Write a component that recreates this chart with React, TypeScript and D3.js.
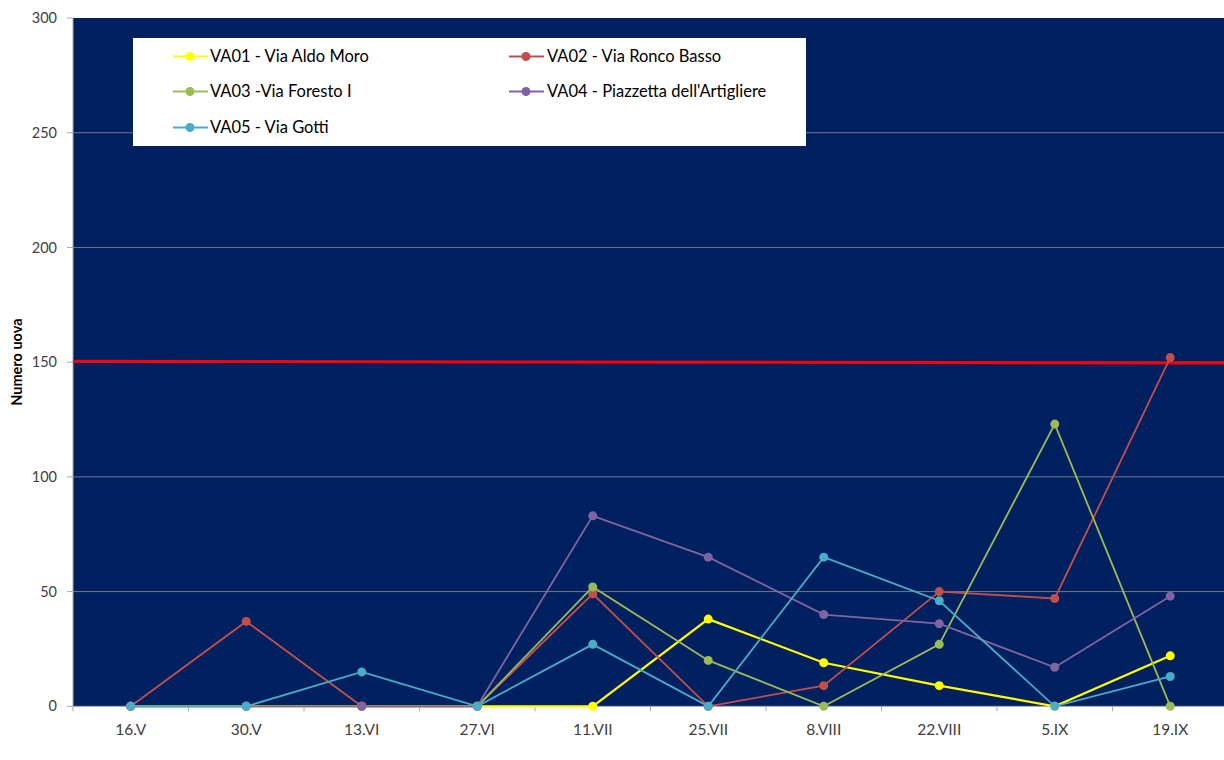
import React from "react";
import * as d3 from "d3";

const categories = ["16.V", "30.V", "13.VI", "27.VI", "11.VII", "25.VII", "8.VIII", "22.VIII", "5.IX", "19.IX"];
const seriesNames = ["VA01 - Via Aldo Moro", "VA02 - Via Ronco Basso", "VA03 -Via Foresto I", "VA04 - Piazzetta dell'Artigliere", "VA05 - Via Gotti"];
const va01 = [0, 0, 0, 0, 0, 38, 19, 9, 0, 22];
const va02 = [0, 37, 0, 0, 49, 0, 9, 50, 47, 152];
const va03 = [0, 0, 0, 0, 52, 20, 0, 27, 123, 0];
const va04 = [0, 0, 0, 0, 83, 65, 40, 36, 17, 48];
const va05 = [0, 0, 15, 0, 27, 0, 65, 46, 0, 13];
const seriesColors = ["#FFFF00", "#C0504D", "#9BBB59", "#8064A2", "#4BACC6"];
const yTicks = [0, 50, 100, 150, 200, 250, 300];
const thresholdLine = [150.4, 149.6];
const yTitle = "Numero uova";

const W = 1224;
const H = 760;
const left = 73;
const top = 18;
const bottom = 706.3;
const bandW = 115.5;
const right = left + bandW * categories.length;

export default function App() {
  const series = [va01, va02, va03, va04, va05];
  const x = d3.scaleBand<string>().domain(categories).range([left, right]).paddingInner(0).paddingOuter(0);
  const y = d3.scaleLinear().domain([0, 300]).range([bottom, top]);
  const cx = (c: string) => (x(c) as number) + x.bandwidth() / 2;
  const line = d3
    .line<number>()
    .x((_, i) => cx(categories[i]))
    .y((v) => y(v));
  const font = "Lato, 'Open Sans', sans-serif";

  const legendPos = [
    { lx: 173, tx: 210, y: 56.5 },
    { lx: 509, tx: 547, y: 56.5 },
    { lx: 173, tx: 210, y: 91.5 },
    { lx: 509, tx: 547, y: 91.5 },
    { lx: 173, tx: 210, y: 127.5 },
  ];

  return (
    <svg width={W} height={H} style={{ position: "absolute", left: 0, top: 0, background: "#fff" }} fontFamily={font}>
      <rect x={left} y={top} width={right - left} height={bottom - top} fill="#002060" />
      {yTicks.map((t) => (
        <g key={t}>
          {t > 0 && t < 300 && <line x1={left} x2={right} y1={y(t)} y2={y(t)} stroke="#6b7a94" strokeWidth={1} />}
          <line x1={left - 6} x2={left} y1={y(t)} y2={y(t)} stroke="#a6a6a6" strokeWidth={1} />
          <text x={57} y={y(t)} dy="0.35em" textAnchor="end" fontSize={14.5} fill="#404040">
            {t}
          </text>
        </g>
      ))}
      <line x1={left} x2={left} y1={top} y2={bottom} stroke="#a6a6a6" strokeWidth={1} />
      <line x1={left} x2={right} y1={bottom} y2={bottom} stroke="#a6a6a6" strokeWidth={1} />
      {categories.map((c, i) => (
        <g key={c}>
          <line x1={x(c) as number} x2={x(c) as number} y1={bottom} y2={bottom + 5} stroke="#a6a6a6" />
          {i === categories.length - 1 && (
            <line x1={right} x2={right} y1={bottom} y2={bottom + 5} stroke="#a6a6a6" />
          )}
          <text x={cx(c)} y={735} textAnchor="middle" fontSize={15.5} fill="#404040">
            {c}
          </text>
        </g>
      ))}
      <line
        x1={left}
        x2={right}
        y1={y(thresholdLine[0])}
        y2={y(thresholdLine[1])}
        stroke="#FF0000"
        strokeWidth={3}
      />
      {series.map((s, si) => (
        <g key={si}>
          <path d={line(s) || ""} fill="none" stroke={seriesColors[si]} strokeWidth={si === 0 ? 2.2 : 1.8} />
          {s.map((v, i) => (
            <circle key={i} cx={cx(categories[i])} cy={y(v)} r={4.5} fill={seriesColors[si]} />
          ))}
        </g>
      ))}
      <rect x={133} y={38} width={673} height={108} fill="#fff" />
      {seriesNames.map((n, i) => {
        const p = legendPos[i];
        return (
          <g key={n}>
            <line x1={p.lx} x2={p.lx + 35} y1={p.y} y2={p.y} stroke={seriesColors[i]} strokeWidth={2} />
            <circle cx={p.lx + 17} cy={p.y} r={4.5} fill={seriesColors[i]} />
            <text x={p.tx} y={p.y} dy="0.35em" fontSize={16.5} fill="#000">
              {n}
            </text>
          </g>
        );
      })}
      <text
        transform={`translate(22,${(top + bottom) / 2}) rotate(-90)`}
        textAnchor="middle"
        fontSize={14.5}
        fontWeight="bold"
        fill="#000"
      >
        {yTitle}
      </text>
    </svg>
  );
}
